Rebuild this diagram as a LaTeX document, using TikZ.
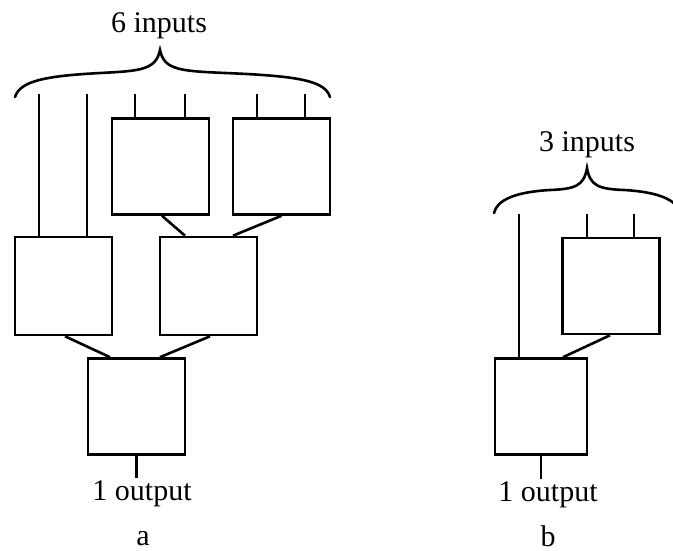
\documentclass[tikz,border=0pt]{standalone}
\usepackage{fontspec}
\setmainfont{Liberation Serif}
\usetikzlibrary{calc}
\begin{document}
\begin{tikzpicture}[x=1pt,y=-1pt,
  wire/.style={line width=2.6pt,line cap=butt},
  blk/.style={draw,line width=2.6pt,minimum width=97pt,minimum height=96pt,inner sep=0pt},
  brc/.style={line width=2.6pt,line cap=round},
  lbl/.style={font=\fontsize{30}{34}\selectfont,anchor=base,inner sep=0pt}]
\useasboundingbox (0,0) rectangle (673,551);
\fill[white] (0,0) rectangle (673,551);

% ---- network a: six inputs reduced to one output ----
\node[blk] (a1) at (160.5,166.5) {};
\node[blk] (a2) at (281.5,166.5) {};
\node[blk,minimum height=98pt] (a3) at (63.5,286) {};
\node[blk,minimum height=98pt] (a4) at (208.5,286) {};
\node[blk] (a5) at (136.5,406.5) {};

% free ends of the input and output wires
\coordinate (ain1) at (39,94);
\coordinate (ain2) at (87,94);
\coordinate (ain3) at (135,94);
\coordinate (ain4) at (185,94);
\coordinate (ain5) at (257,94);
\coordinate (ain6) at (305,94);
\coordinate (aout) at (136.5,478);

\draw[wire] (ain1) -- (ain1 |- a3.north);
\draw[wire] (ain2) -- (ain2 |- a3.north);
\draw[wire] (ain3) -- (ain3 |- a1.north);
\draw[wire] (ain4) -- (ain4 |- a1.north);
\draw[wire] (ain5) -- (ain5 |- a2.north);
\draw[wire] (ain6) -- (ain6 |- a2.north);

\draw[wire] ([xshift=1.5pt]a1.south) -- ([xshift=-23.5pt]a4.north);
\draw[wire] (a2.south) -- ([xshift=24.5pt]a4.north);
\draw[wire] ([xshift=1.5pt]a3.south) -- ([xshift=-26.5pt]a5.north);
\draw[wire] ([xshift=1.5pt]a4.south) -- ([xshift=23.5pt]a5.north);
\draw[wire] (a5.south) -- (aout);

% brace over the six inputs
\draw[brc]
  (15,97) .. controls (20,81) and (45,76) .. (100,73)
          .. controls (140,71) and (156,70) .. (160,50)
          .. controls (164,70) and (180,71) .. (225,73)
          .. controls (300,76) and (325,81) .. (330,97);

\node[lbl] (atop) at (159,33) {6 inputs};
\node[lbl] (abot) at (142,500) {1 output};
\node[lbl] (aname) at (143,545) {a};

% ---- network b: three inputs reduced to one output ----
\node[blk] (b1) at (611,286) {};
\node[blk,minimum width=92pt] (b2) at (541,406.5) {};

\coordinate (bin1) at (519,214);
\coordinate (bin2) at (587,214);
\coordinate (bin3) at (634,214);
\coordinate (bout) at (541,479);

\draw[wire] (bin1) -- (bin1 |- b2.north);
\draw[wire] (bin2) -- (bin2 |- b1.north);
\draw[wire] (bin3) -- (bin3 |- b1.north);
\draw[wire] ([xshift=-1pt]b1.south) -- ([xshift=22pt]b2.north);
\draw[wire] (b2.south) -- (bout);

% brace over the three inputs (runs past the right edge)
\draw[brc]
  (494,213) .. controls (497,200) and (515,192) .. (550,190)
            .. controls (575,189) and (584,186) .. (587,168)
            .. controls (590,186) and (599,189) .. (624,190)
            .. controls (659,192) and (677,200) .. (680,213);

\node[lbl] (btop) at (587,151) {3 inputs};
\node[lbl] (bbot) at (548,501) {1 output};
\node[lbl] (bname) at (548,546) {b};
\end{tikzpicture}
\end{document}
